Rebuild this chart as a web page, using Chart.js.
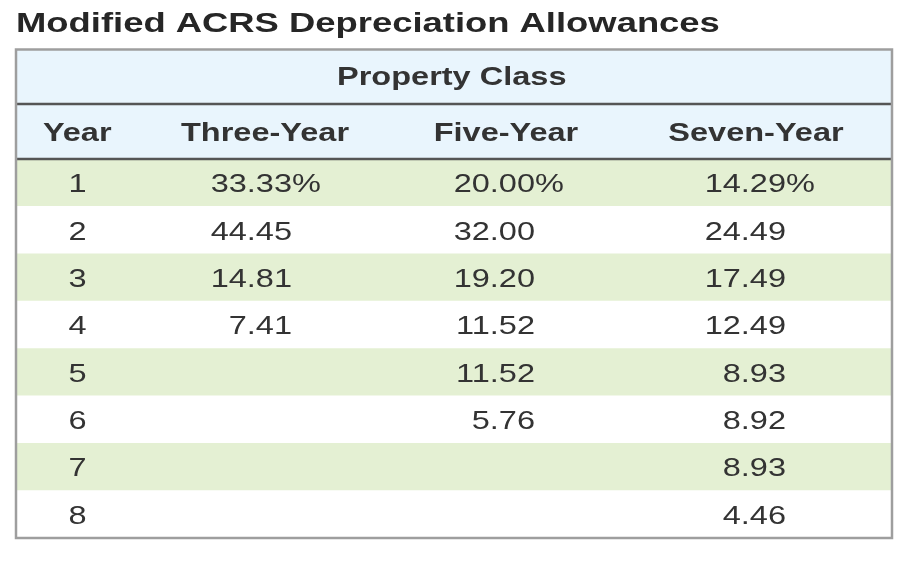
<!DOCTYPE html>
<html>
<head>
<meta charset="utf-8">
<script src="https://cdn.jsdelivr.net/npm/chart.js@4/dist/chart.umd.min.js"></script>
<style>
  html, body { margin: 0; padding: 0; background: #ffffff; }
  #wrap { width: 902px; height: 566px; position: relative; }
</style>
</head>
<body>
<div id="wrap"><canvas id="c"></canvas></div>
<script>
// ---- data ----
const chartTitle = 'Modified ACRS Depreciation Allowances';
const groupHeader = 'Property Class';
const columnHeaders = ['Year', 'Three-Year', 'Five-Year', 'Seven-Year'];
const years = ['1', '2', '3', '4', '5', '6', '7', '8'];
const threeYear = [33.33, 44.45, 14.81, 7.41];
const fiveYear = [20.00, 32.00, 19.20, 11.52, 11.52, 5.76];
const sevenYear = [14.29, 24.49, 17.49, 12.49, 8.93, 8.92, 8.93, 4.46];

// ---- styling / layout ----
const FONT = '"Liberation Sans", Arial, Helvetica, sans-serif';
const SX = 1.3; // horizontal stretch of the reference lettering
const TEXT = '#333333';
const GREEN = '#e4f0d3';
const BLUE = '#e9f5fd';
// column anchors on x scale (0..100 across the table width)
const headerCenters = [7.0, 28.46, 56.0, 84.57];
const yearCenter = 7.03;
const valueRight = [31.54, 59.31, 88.0];
const groupCenter = 49.8;

function drawStretched(ctx, text, x, y, align) {
  const w = ctx.measureText(text).width * SX;
  const left = align === 'center' ? x - w / 2 : (align === 'right' ? x - w : x);
  ctx.save();
  ctx.translate(left, y);
  ctx.scale(SX, 1);
  ctx.textAlign = 'left';
  ctx.textBaseline = 'alphabetic';
  ctx.fillText(text, 0, 0);
  ctx.restore();
}

const tablePlugin = {
  id: 'tablePlugin',
  afterDatasetsDraw(chart) {
    const { ctx, chartArea: a, scales } = chart;
    const xs = scales.x, ys = scales.y;
    const tableTop = 49.5;
    const h1Bottom = 104;
    ctx.save();
    // header backgrounds
    ctx.fillStyle = BLUE;
    ctx.fillRect(a.left, tableTop, a.right - a.left, a.top - tableTop);
    // header lines
    ctx.strokeStyle = '#555555';
    ctx.lineWidth = 2.5;
    ctx.beginPath();
    ctx.moveTo(a.left, h1Bottom); ctx.lineTo(a.right, h1Bottom);
    ctx.moveTo(a.left, a.top); ctx.lineTo(a.right, a.top);
    ctx.stroke();

    // title
    ctx.fillStyle = '#262626';
    ctx.font = 'bold 28px ' + FONT;
    drawStretched(ctx, chartTitle, 16, 32, 'left');

    // group header
    ctx.fillStyle = TEXT;
    ctx.font = 'bold 25px ' + FONT;
    drawStretched(ctx, groupHeader, xs.getPixelForValue(groupCenter), (tableTop + h1Bottom) / 2 + 8.5, 'center');
    // column headers
    const h2Mid = (h1Bottom + a.top) / 2;
    columnHeaders.forEach((h, i) => {
      drawStretched(ctx, h, xs.getPixelForValue(headerCenters[i]), h2Mid + 9, 'center');
    });

    // body cells
    ctx.font = '25px ' + FONT;
    const cols = [threeYear, fiveYear, sevenYear];
    years.forEach((yr, i) => {
      const yb = ys.getPixelForValue(i) + 9.5;
      drawStretched(ctx, yr, xs.getPixelForValue(yearCenter), yb, 'center');
      cols.forEach((col, c) => {
        if (i >= col.length) return;
        const num = col[i].toFixed(2);
        const txt = i === 0 ? num + '%' : num;
        const right = xs.getPixelForValue(valueRight[c]);
        const left = right - ctx.measureText(num).width * SX;
        drawStretched(ctx, txt, left, yb, 'left');
      });
    });

    // outer border
    ctx.strokeStyle = '#9e9e9e';
    ctx.lineWidth = 2.5;
    ctx.strokeRect(16, tableTop, 876, 538 - tableTop);
    ctx.restore();
  }
};

new Chart(document.getElementById('c'), {
  type: 'bar',
  data: {
    labels: years,
    datasets: [{
      data: years.map(() => [0, 100]),
      backgroundColor: years.map((_, i) => (i % 2 === 0 ? GREEN : '#ffffff')),
      borderWidth: 0,
      barPercentage: 1,
      categoryPercentage: 1
    }]
  },
  options: {
    indexAxis: 'y',
    responsive: true,
    maintainAspectRatio: false,
    animation: false,
    layout: { padding: { top: 159, left: 16, right: 11, bottom: 28 } },
    plugins: { legend: { display: false }, tooltip: { enabled: false }, title: { display: false } },
    scales: {
      x: { type: 'linear', min: 0, max: 100, display: false, grid: { display: false } },
      y: { type: 'category', display: false, grid: { display: false } }
    }
  },
  plugins: [tablePlugin]
});
</script>
</body>
</html>
